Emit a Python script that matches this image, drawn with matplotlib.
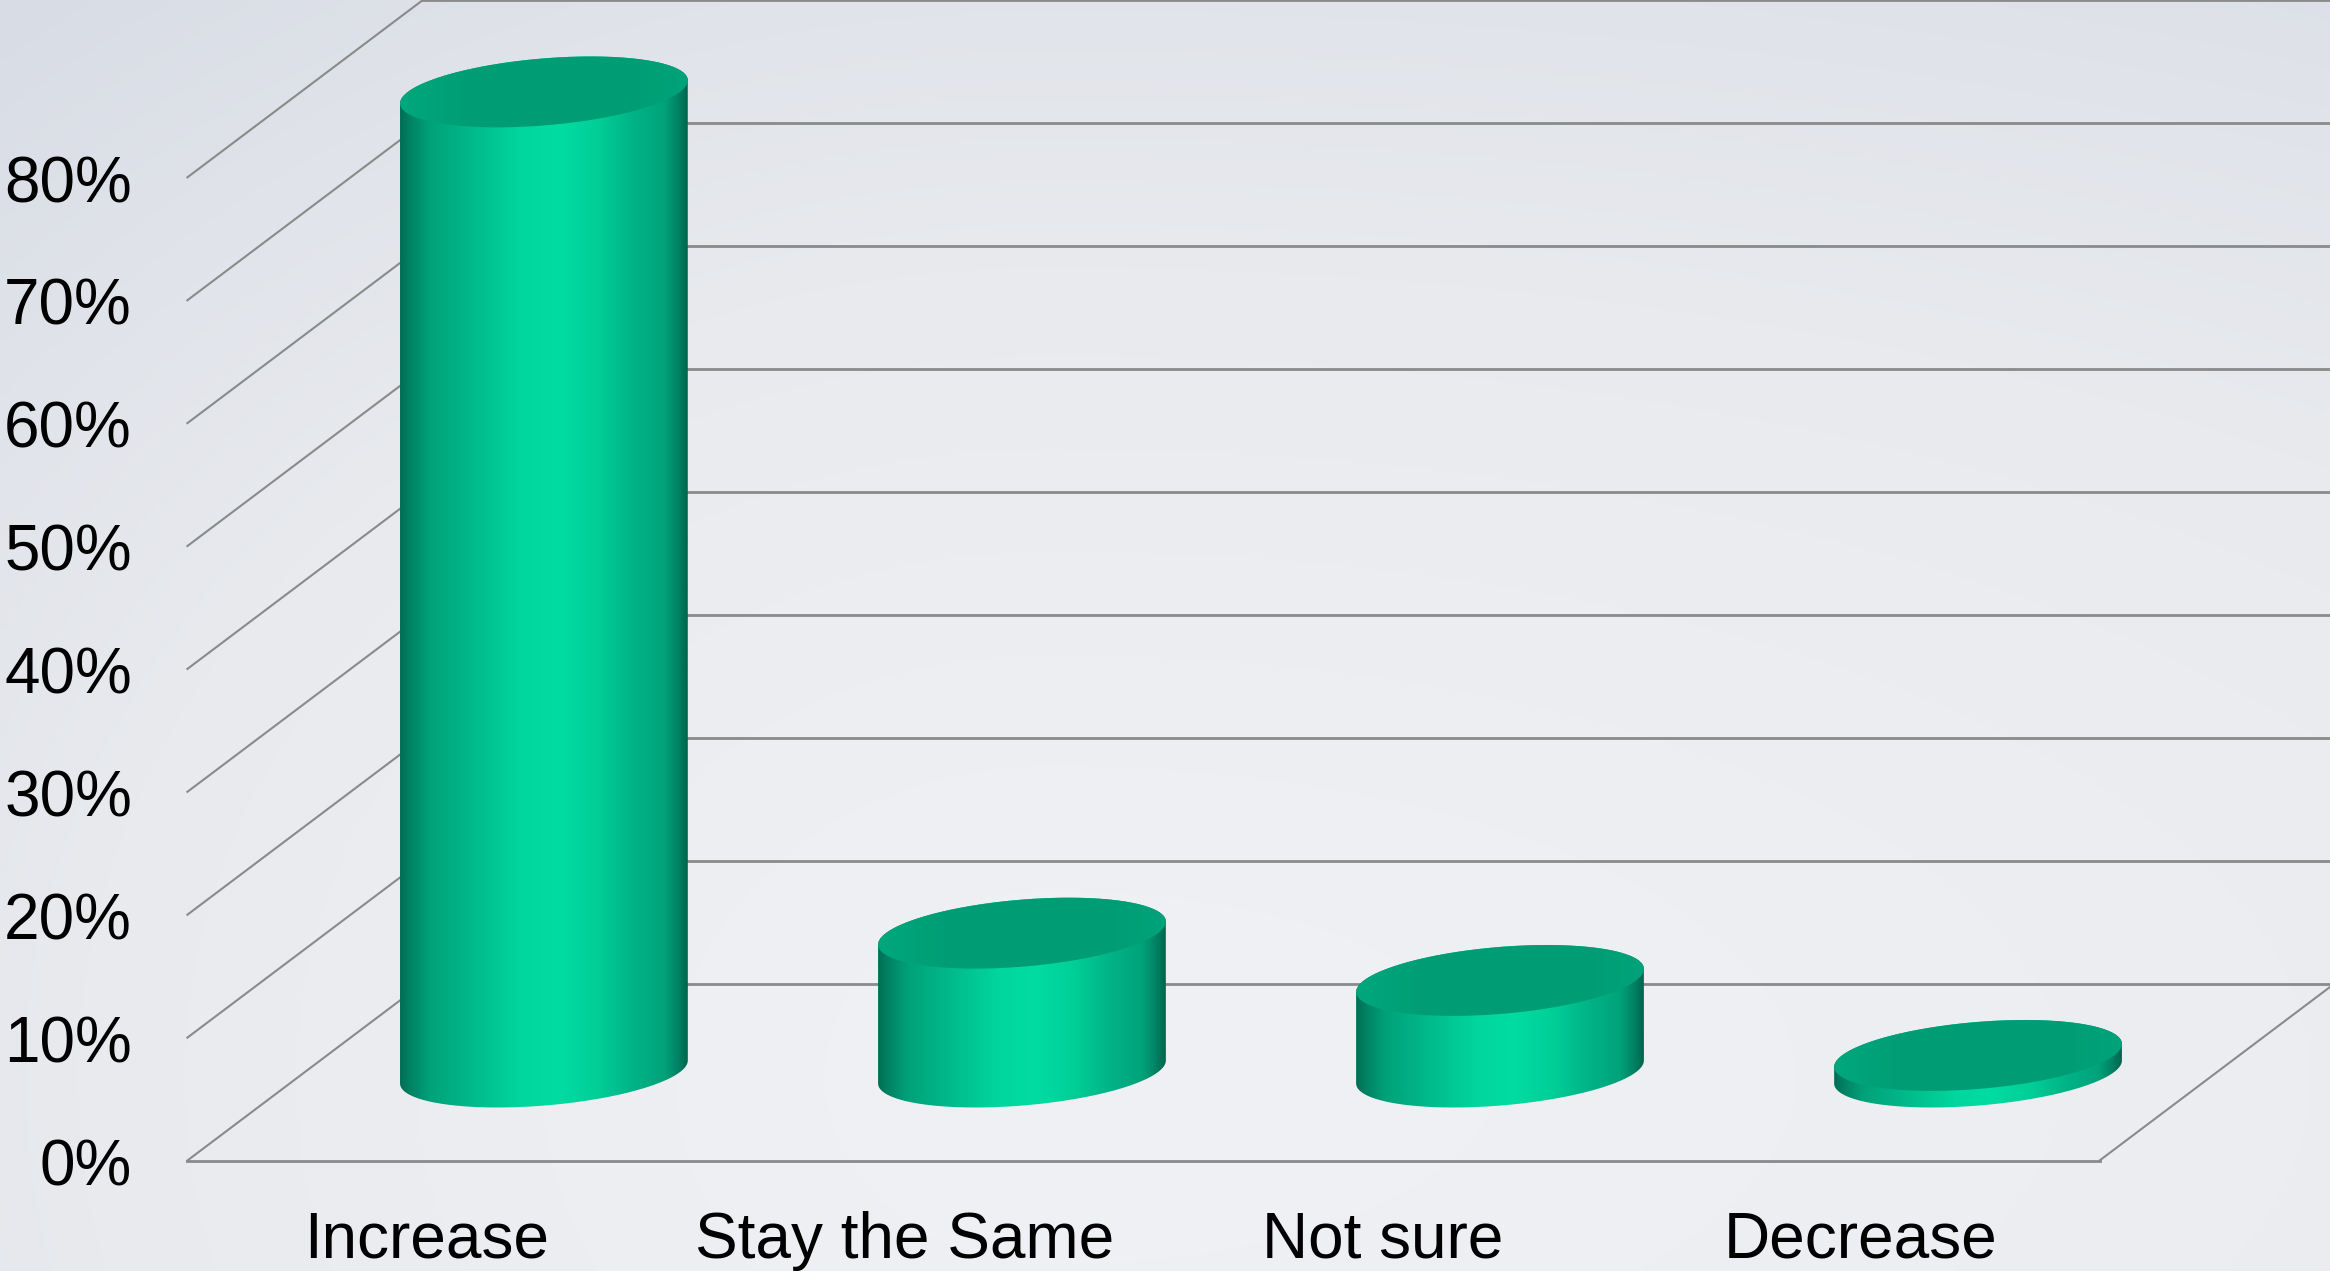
import numpy as np
import matplotlib
matplotlib.use('Agg')
import matplotlib.pyplot as plt
from matplotlib.colors import LinearSegmentedColormap
from matplotlib.patches import PathPatch
from matplotlib.path import Path

categories = ['Increase', 'Stay the Same', 'Not sure', 'Decrease']
values = [79.75, 11.3, 7.45, 1.35]
y_ticks = [0, 10, 20, 30, 40, 50, 60, 70, 80]
y_tick_labels = ['0%', '10%', '20%', '30%', '40%', '50%', '60%', '70%', '80%']

# chart depth and cylinder shape, in data units
DEPTH_X = 0.4916
DEPTH_Y = 14.4
RADIUS_X = 0.301
RADIUS_Y = 2.73
SHEAR = 0.936

plt.rcParams['font.family'] = ['Liberation Sans', 'DejaVu Sans']

side_cmap = LinearSegmentedColormap.from_list('side', [
    (0.0, '#006e54'), (0.03, '#008062'), (0.1, '#00a179'), (0.25, '#00ba8b'),
    (0.42, '#00d69e'), (0.55, '#00dca2'), (0.68, '#00cf98'), (0.8, '#00b588'),
    (0.92, '#00a27a'), (0.97, '#008062'), (1.0, '#00664d')])
top_cmap = LinearSegmentedColormap.from_list('top', [
    (0.0, '#00a77d'), (0.25, '#009d75'), (0.8, '#009d75'), (1.0, '#00a37a')])
back_cmap = LinearSegmentedColormap.from_list('back', ['#f0f1f5', '#e8eaee', '#d8dce5'])


def ellipse_points(cx, cy, t):
    return np.column_stack([cx + RADIUS_X * np.cos(t),
                            cy + RADIUS_Y * np.sin(t) + SHEAR * np.cos(t)])


def fill_gradient(ax, points, cmap, cx, ymin, ymax, zorder):
    patch = PathPatch(Path(np.vstack([points, points[:1]])), facecolor='none',
                      edgecolor='none', zorder=zorder)
    ax.add_patch(patch)
    im = ax.imshow(np.linspace(0, 1, 256).reshape(1, -1), cmap=cmap, aspect='auto',
                   extent=(cx - RADIUS_X, cx + RADIUS_X, ymin, ymax),
                   interpolation='bilinear', zorder=zorder)
    im.set_clip_path(patch)


def draw_cylinder(ax, cx, value):
    base = DEPTH_Y / 2
    top = base + value
    # the side: lower arc of the base, then upper arc of the top
    lower = ellipse_points(cx, base, np.linspace(np.pi, 2 * np.pi, 120))
    upper = ellipse_points(cx, top, np.linspace(0, np.pi, 120))
    ymin = base - RADIUS_Y - SHEAR
    ymax = top + RADIUS_Y + SHEAR
    fill_gradient(ax, np.vstack([lower, upper]), side_cmap, cx, ymin, ymax, 4)
    cap = ellipse_points(cx, top, np.linspace(0, 2 * np.pi, 240))
    fill_gradient(ax, cap, top_cmap, cx, ymin, ymax, 5)


fig = plt.figure(figsize=(23.3, 12.71), dpi=100)
ax = fig.add_axes([0, 0, 1, 1])
xlim = (-0.892, 3.982)
ylim = (-8.99, 94.43)

# page background, row 0 is the top of the figure; the left side falls off faster
gx, gy = np.meshgrid(np.linspace(0, 1, 300), np.linspace(0, 1, 170))
x_scale = np.where(gx < 0.45, 0.75, 1.5)
shade = np.hypot((gx - 0.45) / x_scale, (gy - 0.85) / 1.15)
ax.imshow(np.clip(shade / 0.95, 0, 1) ** 1.3, cmap=back_cmap, vmin=0, vmax=1, aspect='auto',
          extent=(xlim[0], xlim[1], ylim[0], ylim[1]), interpolation='bilinear', zorder=0)

left = -0.5
right = len(categories) - 0.5
line_color = '#8a8a8a'
for tick, label in zip(y_ticks, y_tick_labels):
    ax.plot([left + DEPTH_X, right + DEPTH_X], [tick + DEPTH_Y, tick + DEPTH_Y],
            color=line_color, lw=2.0, zorder=2)
    ax.plot([left, left + DEPTH_X], [tick, tick + DEPTH_Y], color=line_color, lw=1.5, zorder=2)
    ax.text(-0.616, tick - 0.1, label, fontsize=46, color='black', ha='right', va='center_baseline')

# floor
ax.plot([left, right], [0, 0], color=line_color, lw=2.0, zorder=2)
ax.plot([right, right + DEPTH_X], [0, DEPTH_Y], color=line_color, lw=1.5, zorder=2)

for i, value in enumerate(values):
    draw_cylinder(ax, i + DEPTH_X / 2, value)
    ax.text(i, -7.9, categories[i], fontsize=46, color='black', ha='center', va='baseline')

ax.set_xlim(xlim)
ax.set_ylim(ylim)
ax.axis('off')
fig.savefig('out.png', dpi=100)
